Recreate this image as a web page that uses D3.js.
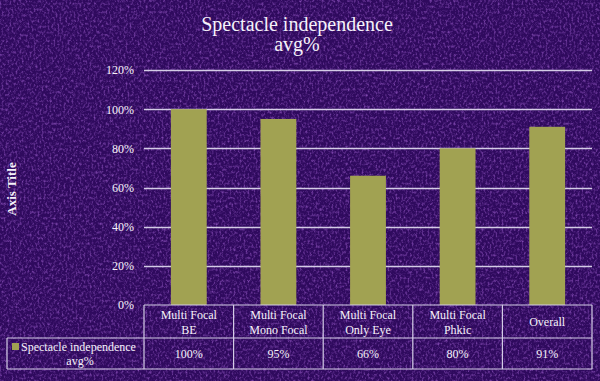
<!DOCTYPE html>
<html><head><meta charset="utf-8">
<script src="https://cdn.jsdelivr.net/npm/d3@7"></script>
<style>html,body{margin:0;padding:0;background:#3b0d6e;}svg{display:block;}</style>
</head><body>
<svg id="c" width="600" height="381"></svg>
<script>
const categories = [["Multi Focal","BE"],["Multi Focal","Mono Focal"],["Multi Focal","Only Eye"],["Multi Focal","Phkic"],["Overall"]];
const values = [100, 95, 66, 80, 91];
const valueLabels = ["100%","95%","66%","80%","91%"];
const yTicks = [0,20,40,60,80,100,120];
const seriesName = ["Spectacle independence","avg%"];
const titleLines = ["Spectacle independence","avg%"];
const axisTitle = "Axis Title";

(function(){
const svg = d3.select("#c");
const W = 600, H = 381;
const font = "'Liberation Serif','Times New Roman',serif";
const txt = "#f6f2fa";
const lineC = "#d4cce6";
const barC = "#a1a252";

// textured background
const defs = svg.append("defs");
const f = defs.append("filter").attr("id","tex").attr("x",0).attr("y",0).attr("width","100%").attr("height","100%");
f.append("feTurbulence").attr("type","fractalNoise").attr("baseFrequency","0.5 0.35").attr("numOctaves",3).attr("seed",11).attr("result","n");
f.append("feColorMatrix").attr("in","n").attr("type","matrix")
 .attr("values","0 0 0 0 0.33  0 0 0 0 0.11  0 0 0 0 0.60  0 0 0 -2.2 1.2").attr("result","c");
f.append("feComposite").attr("in","c").attr("in2","SourceGraphic").attr("operator","in");
svg.append("rect").attr("width",W).attr("height",H).attr("fill","#2f0a5e");
svg.append("rect").attr("width",W).attr("height",H).attr("fill","#2f0a5e").attr("filter","url(#tex)").attr("opacity",0.75);

const pLeft = 144, pRight = 592, pTop = 70, pBottom = 305;
const x = d3.scaleBand().domain(d3.range(values.length)).range([pLeft,pRight]).paddingInner(0).paddingOuter(0);
const y = d3.scaleLinear().domain([0,120]).range([pBottom,pTop]);

// gridlines
svg.append("g").selectAll("line").data(yTicks.filter(t=>t>0)).join("line")
 .attr("x1",pLeft).attr("x2",pRight).attr("y1",d=>Math.round(y(d))+0.5).attr("y2",d=>Math.round(y(d))+0.5)
 .attr("stroke",lineC).attr("stroke-width",1.5);

// y axis labels
const yAxis = d3.axisLeft(y).tickValues(yTicks).tickFormat(d=>d+"%").tickSize(0).tickPadding(0);
const ga = svg.append("g").attr("transform",`translate(134,0)`).call(yAxis);
ga.select(".domain").remove();
ga.selectAll("text").attr("fill",txt).attr("font-family",font).attr("font-size",12).attr("dy","0.32em");

// bars
const bw = x.bandwidth()*0.4;
svg.append("g").selectAll("rect").data(values).join("rect")
 .attr("x",(d,i)=>x(i)+(x.bandwidth()-bw)/2).attr("width",bw)
 .attr("y",d=>y(d)).attr("height",d=>pBottom-y(d)).attr("fill",barC);

// title
svg.append("text").attr("x",297).attr("y",31).attr("text-anchor","middle").attr("fill",txt)
 .attr("font-family",font).attr("font-size",20).text(titleLines[0]);
svg.append("text").attr("x",297).attr("y",51).attr("text-anchor","middle").attr("fill",txt)
 .attr("font-family",font).attr("font-size",20).text(titleLines[1]);

// axis title
svg.append("text").attr("transform","translate(16,189) rotate(-90)").attr("text-anchor","middle")
 .attr("fill",txt).attr("font-family",font).attr("font-size",13).attr("font-weight","bold").text(axisTitle);

// data table
const rowTop = 305, rowMid = 338, rowBot = 369, tLeft = 7;
const tb = svg.append("g").attr("stroke",lineC).attr("stroke-width",1.2).attr("fill","none");
tb.append("line").attr("x1",pLeft).attr("x2",pRight).attr("y1",rowTop).attr("y2",rowTop);
tb.append("line").attr("x1",tLeft).attr("x2",pRight).attr("y1",rowMid).attr("y2",rowMid);
tb.append("line").attr("x1",tLeft).attr("x2",pRight).attr("y1",rowBot).attr("y2",rowBot);
tb.append("line").attr("x1",tLeft).attr("x2",tLeft).attr("y1",rowMid).attr("y2",rowBot);
tb.selectAll("line.v").data(d3.range(values.length+1)).join("line").attr("class","v")
 .attr("x1",i=>i<values.length?x(i):pRight).attr("x2",i=>i<values.length?x(i):pRight)
 .attr("y1",rowTop).attr("y2",rowBot);

// category headers
const ch = svg.append("g").attr("font-family",font).attr("font-size",12).attr("fill",txt).attr("text-anchor","middle");
categories.forEach((c,i)=>{
  const cx = x(i)+x.bandwidth()/2;
  if(c.length===2){
    ch.append("text").attr("x",cx).attr("y",319).text(c[0]);
    ch.append("text").attr("x",cx).attr("y",334).text(c[1]);
  } else {
    ch.append("text").attr("x",cx).attr("y",326).text(c[0]);
  }
});
// values
ch.selectAll("text.v").data(valueLabels).join("text").attr("class","v")
 .attr("x",(d,i)=>x(i)+x.bandwidth()/2).attr("y",358).text(d=>d);

// legend cell
svg.append("rect").attr("x",12).attr("y",343).attr("width",7).attr("height",7).attr("fill",barC);
svg.append("text").attr("x",21).attr("y",351).attr("fill",txt).attr("font-family",font).attr("font-size",12).text(seriesName[0]);
svg.append("text").attr("x",80).attr("y",365).attr("text-anchor","middle").attr("fill",txt).attr("font-family",font).attr("font-size",12).text(seriesName[1]);
})();
</script>
</body></html>
